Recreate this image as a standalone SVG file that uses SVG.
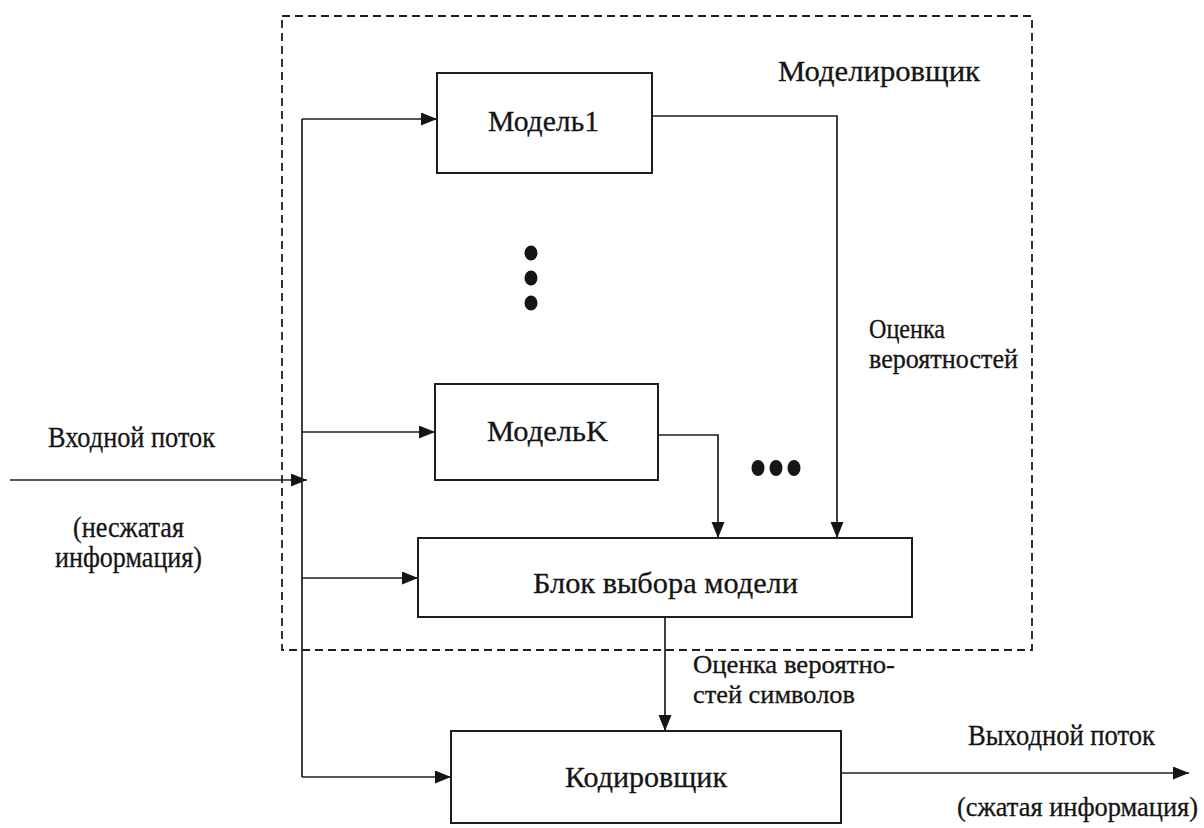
<svg xmlns="http://www.w3.org/2000/svg" width="1204" height="828" viewBox="0 0 1204 828">
<defs>
<marker id="arr" markerUnits="userSpaceOnUse" markerWidth="18" markerHeight="14" refX="16" refY="6.5" orient="auto">
<path d="M0,0 L16,6.5 L0,13 z" fill="#151515"/>
</marker>
<style>
.box{fill:none;stroke:#1e1e1e;stroke-width:2}
.ln{fill:none;stroke:#1e1e1e;stroke-width:1.7}
.dash{fill:none;stroke:#1e1e1e;stroke-width:1.8;stroke-dasharray:8 5}
.t{font-family:"Liberation Serif","Times New Roman",serif;font-size:30px;fill:#151515;stroke:#151515;stroke-width:0.3}
.s{font-family:"Liberation Serif","Times New Roman",serif;font-size:27px;fill:#151515;stroke:#151515;stroke-width:0.3}
.c{font-family:"Liberation Serif","Times New Roman",serif;font-size:25px;fill:#151515;stroke:#151515;stroke-width:0.3}
.dot{fill:#151515}
</style>
</defs>
<rect width="1204" height="828" fill="#ffffff"/>

<g id="modeler">
<rect class="dash" x="282" y="16" width="750" height="634"/>
<text class="t" x="778" y="81" textLength="202" lengthAdjust="spacingAndGlyphs">Моделировщик</text>
</g>

<g id="model1">
<rect class="box" x="437" y="73" width="215" height="100"/>
<text class="t" x="488" y="131" textLength="111" lengthAdjust="spacingAndGlyphs">Модель1</text>
</g>

<g id="dots-vertical">
<ellipse class="dot" cx="531" cy="253" rx="6.5" ry="7.5"/>
<ellipse class="dot" cx="531" cy="278" rx="6.5" ry="7.5"/>
<ellipse class="dot" cx="531" cy="303" rx="6.5" ry="7.5"/>
</g>

<g id="modelK">
<rect class="box" x="435" y="384" width="223" height="96"/>
<text class="t" x="487" y="441" textLength="121" lengthAdjust="spacingAndGlyphs">МодельK</text>
</g>

<g id="dots-horizontal">
<ellipse class="dot" cx="758" cy="468" rx="6.5" ry="8"/>
<ellipse class="dot" cx="776" cy="468" rx="6.5" ry="8"/>
<ellipse class="dot" cx="794" cy="468" rx="6.5" ry="8"/>
</g>

<g id="selector">
<rect class="box" x="418" y="538" width="494" height="79"/>
<text class="t" x="533" y="593" textLength="265" lengthAdjust="spacingAndGlyphs">Блок выбора модели</text>
</g>

<g id="coder">
<rect class="box" x="451" y="731" width="390" height="92"/>
<text class="t" x="565" y="787" textLength="162" lengthAdjust="spacingAndGlyphs">Кодировщик</text>
</g>

<g id="connectors">
<path class="ln" d="M10,480 H307" marker-end="url(#arr)"/>
<path class="ln" d="M302,119 V777"/>
<path class="ln" d="M302,119 H437" marker-end="url(#arr)"/>
<path class="ln" d="M302,432 H435" marker-end="url(#arr)"/>
<path class="ln" d="M302,578 H418" marker-end="url(#arr)"/>
<path class="ln" d="M302,777 H451" marker-end="url(#arr)"/>
<path class="ln" d="M652,116 H837 V538" marker-end="url(#arr)"/>
<path class="ln" d="M658,435 H718 V538" marker-end="url(#arr)"/>
<path class="ln" d="M665,617 V731" marker-end="url(#arr)"/>
<path class="ln" d="M841,773 H1189" marker-end="url(#arr)"/>
</g>

<g id="labels">
<text class="t" x="48" y="447" textLength="167" lengthAdjust="spacingAndGlyphs">Входной поток</text>
<text class="t" x="73" y="537" textLength="111" lengthAdjust="spacingAndGlyphs">(несжатая</text>
<text class="t" x="55" y="567" textLength="147" lengthAdjust="spacingAndGlyphs">информация)</text>
<text class="s" x="869" y="338" textLength="76" lengthAdjust="spacingAndGlyphs">Оценка</text>
<text class="s" x="869" y="368" textLength="149" lengthAdjust="spacingAndGlyphs">вероятностей</text>
<text class="c" x="693" y="673" textLength="202" lengthAdjust="spacingAndGlyphs">Оценка вероятно-</text>
<text class="c" x="693" y="703" textLength="162" lengthAdjust="spacingAndGlyphs">стей символов</text>
<text class="t" x="968" y="745" textLength="187" lengthAdjust="spacingAndGlyphs">Выходной поток</text>
<text class="s" x="957" y="816" textLength="241" lengthAdjust="spacingAndGlyphs">(сжатая информация)</text>
</g>
</svg>
